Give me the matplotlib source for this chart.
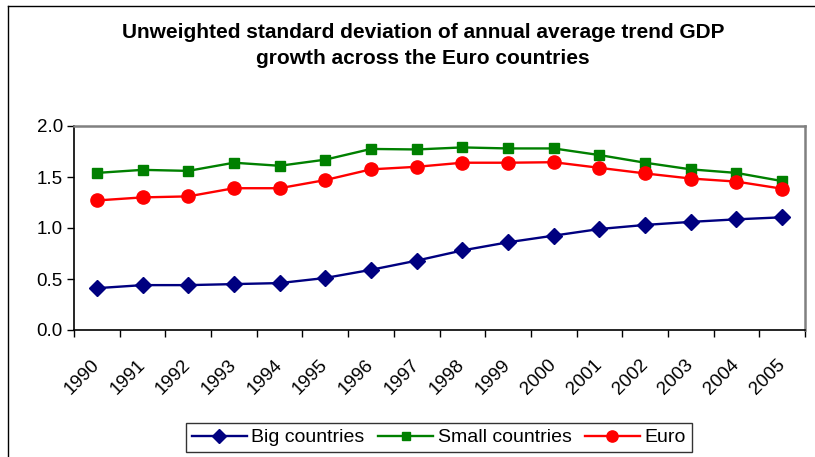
import matplotlib
matplotlib.use('Agg')
import matplotlib.pyplot as plt
import matplotlib.transforms as mtransforms
from matplotlib.lines import Line2D
import numpy as np

# Values

years = [str(y) for y in range(1990, 2006)]

big = [0.41, 0.44, 0.44, 0.45, 0.46, 0.51, 0.59, 0.68,
       0.78, 0.86, 0.925, 0.99, 1.03, 1.06, 1.085, 1.105]
small = [1.54, 1.57, 1.56, 1.64, 1.61, 1.67, 1.775, 1.77,
         1.79, 1.78, 1.78, 1.715, 1.64, 1.575, 1.54, 1.46]
euro = [1.27, 1.30, 1.31, 1.39, 1.39, 1.47, 1.575, 1.60,
        1.64, 1.64, 1.645, 1.59, 1.535, 1.485, 1.455, 1.385]

plt.rcParams['font.family'] = ['Liberation Sans', 'DejaVu Sans']

W, H = 815, 457
fig = plt.figure(figsize=(W / 100, H / 100), dpi=100)
ax = fig.add_axes([74 / W, 1 - 330 / H, (805 - 74) / W, (330 - 126) / H])

x = np.arange(len(years))
ax.plot(x, big, color='#000080', lw=1.7, marker='D', ms=8, label='Big countries')
ax.plot(x, small, color='#008000', lw=1.7, marker='s', ms=7.5, label='Small countries')
ax.plot(x, euro, color='#FF0000', lw=1.7, marker='o', ms=9.5, label='Euro')

ax.set_xlim(-0.5, len(years) - 0.5)
ax.set_ylim(0, 2.0)
ax.set_yticks([0, 0.5, 1.0, 1.5, 2.0])
ax.set_yticklabels(['%.1f' % v for v in [0, 0.5, 1.0, 1.5, 2.0]], fontsize=13.5)
ax.tick_params(axis='y', direction='out', length=5, width=1, pad=3)

ax.set_xticks(x)
ax.set_xticklabels(years, rotation=45, ha='right', va='top',
                   rotation_mode='anchor', fontsize=13.5)
ax.tick_params(axis='x', which='major', length=0, pad=19)
shift = mtransforms.ScaledTranslation(-6 / 100, 0, fig.dpi_scale_trans)
for lab in ax.get_xticklabels():
    lab.set_transform(lab.get_transform() + shift)
ax.set_xticks(np.arange(-0.5, len(years)), minor=True)
ax.tick_params(axis='x', which='minor', direction='out', length=5, width=1)

for side in ['left', 'bottom']:
    ax.spines[side].set_color('black')
    ax.spines[side].set_linewidth(1.2)
for side in ['top', 'right']:
    ax.spines[side].set_color('#808080')
    ax.spines[side].set_linewidth(1.8)

fig.text(423 / W, 1 - 33 / H, 'Unweighted standard deviation of annual average trend GDP',
         ha='center', va='center', fontsize=15, fontweight='bold')
fig.text(423 / W, 1 - 58 / H, 'growth across the Euro countries',
         ha='center', va='center', fontsize=15, fontweight='bold')

leg = fig.legend(loc='center', bbox_to_anchor=(439 / W, 1 - 437.5 / H), ncol=3,
                 fontsize=14, frameon=True, fancybox=False, edgecolor='black',
                 handlelength=2.8, handletextpad=0.25, columnspacing=0.7,
                 borderpad=0.3, borderaxespad=0, markerscale=0.85)
leg.get_frame().set_linewidth(1.0)

# outer chart frame (only left and top edges visible)
fig.add_artist(Line2D([8 / W, 8 / W], [0, 1 - 6 / H], transform=fig.transFigure,
                      color='black', lw=1))
fig.add_artist(Line2D([8 / W, 1], [1 - 6 / H, 1 - 6 / H], transform=fig.transFigure,
                      color='black', lw=1))

fig.savefig('out.png', dpi=100)
